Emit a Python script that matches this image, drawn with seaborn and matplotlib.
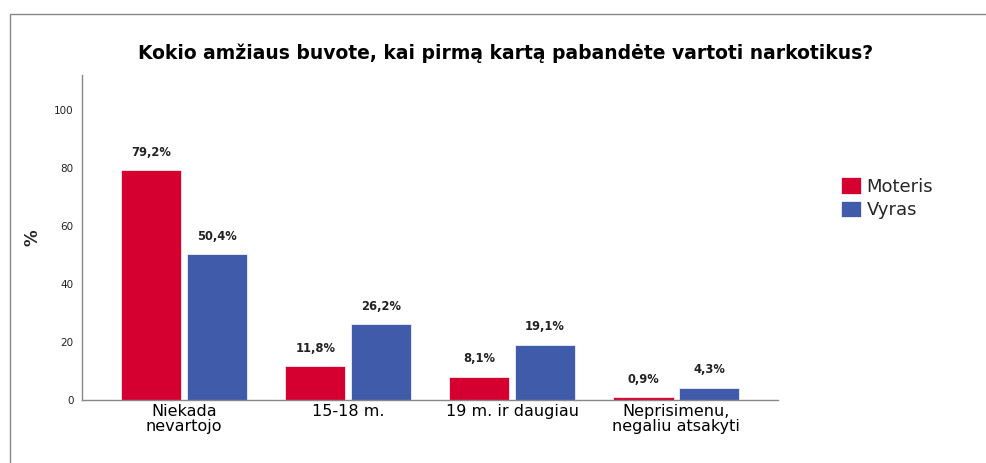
import matplotlib
matplotlib.use('Agg')
import matplotlib.pyplot as plt
import seaborn as sns
import pandas as pd
from matplotlib.patches import Rectangle

# values
categories = ['Niekada\nnevartojo', '15-18 m.', '19 m. ir daugiau', 'Neprisimenu,\nnegaliu atsakyti']
moteris = [79.2, 11.8, 8.1, 0.9]
vyras = [50.4, 26.2, 19.1, 4.3]
groups = ['Moteris', 'Vyras']
colors = ['#D60030', '#3F5BA9']

df = pd.DataFrame({
    'cat': categories * 2,
    'val': moteris + vyras,
    'lytis': [groups[0]] * 4 + [groups[1]] * 4,
})

sns.set_style('white')
plt.rcParams['font.family'] = ['DejaVu Sans']

fig = plt.figure(figsize=(9.87, 4.63), dpi=100)
ax = fig.add_axes([0.0831, 0.136, 0.705, 0.702])

sns.barplot(data=df, x='cat', y='val', hue='lytis', palette=colors, width=0.8, gap=0.08,
            saturation=1, ax=ax, edgecolor='white', linewidth=0.5)

for cont in ax.containers:
    ax.bar_label(cont, labels=[f'{v:.1f}%'.replace('.', ',') for v in cont.datavalues],
                 padding=8, fontsize=8.3, fontweight='bold', color='#222222')

ax.set_ylim(0, 112)
ax.set_xlim(-0.622, 3.62)
ax.set_yticks([0, 20, 40, 60, 80, 100])
ax.tick_params(axis='y', labelsize=7.5, length=0, pad=6, labelcolor='#222222')
ax.tick_params(axis='x', labelsize=11.5, length=0, pad=3, labelcolor='black')
ax.set_xlabel('')
ax.set_ylabel('%', fontsize=12, fontweight='bold')
ax.yaxis.set_label_coords(-0.058, 0.5)
for s in ['top', 'right']:
    ax.spines[s].set_visible(False)
for s in ['left', 'bottom']:
    ax.spines[s].set_color('#888888')
    ax.spines[s].set_linewidth(1)

for lbl in ax.get_xticklabels():
    lbl.set_linespacing(0.95)

ax.legend(loc='upper left', bbox_to_anchor=(1.068, 0.735), frameon=False, fontsize=13,
          handlelength=1.1, handleheight=1.0, handletextpad=0.3, labelspacing=0.3)

fig.text(0.512, 0.885, 'Kokio amžiaus buvote, kai pirmą kartą pabandėte vartoti narkotikus?',
         ha='center', va='center', fontsize=13.5, fontweight='bold', color='black')

# outer frame
fig.patches.append(Rectangle((10 / 987, -0.05), 1.0, 1.05 - 14 / 463, transform=fig.transFigure,
                             fill=False, edgecolor='#888888', linewidth=1))

fig.savefig('out.png', dpi=100)
